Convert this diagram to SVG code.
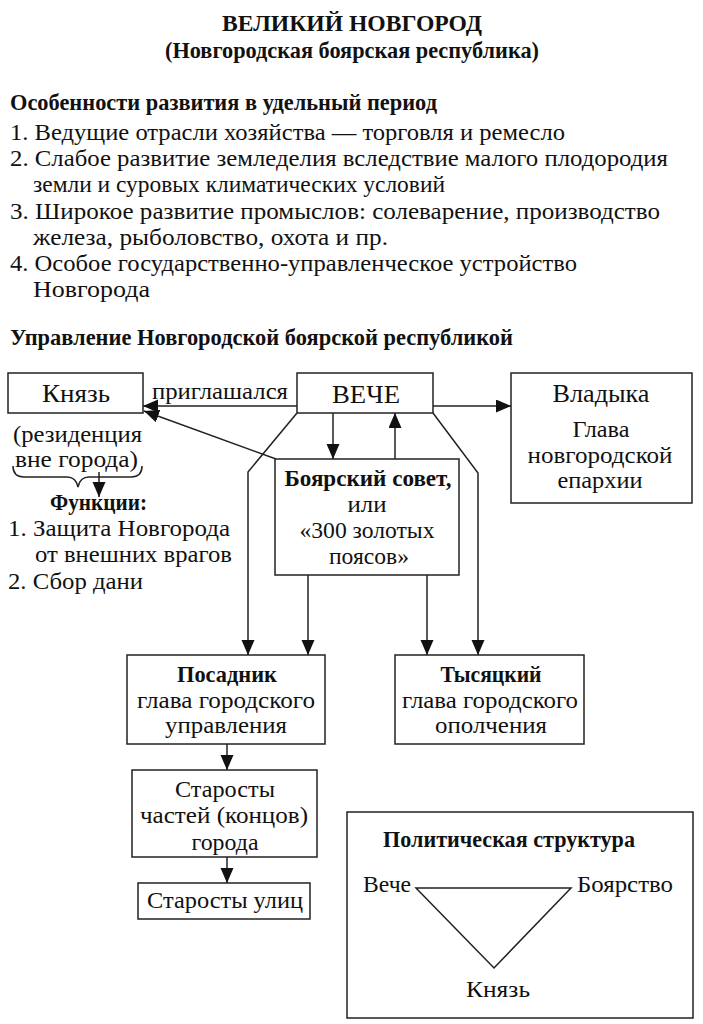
<svg xmlns="http://www.w3.org/2000/svg" width="703" height="1024" viewBox="0 0 703 1024">
<style>
text{font-family:"Liberation Serif","DejaVu Serif",serif;fill:#111;font-size:24px}
.b{font-weight:bold;font-size:23px}
.m{text-anchor:middle}
.e{text-anchor:end}
.box{fill:#fff;stroke:#222;stroke-width:1.5}
.ln{fill:none;stroke:#222;stroke-width:1.5}
</style>
<defs>
<marker id="ah" markerUnits="userSpaceOnUse" markerWidth="16" markerHeight="14" refX="15" refY="6.5" orient="auto">
<path d="M0,0 L15,6.5 L0,13 z" fill="#111"/>
</marker>
</defs>
<rect width="703" height="1024" fill="#fff"/>

<g id="header">
<text class="b m" x="352" y="31" style="font-size:24px" textLength="260" lengthAdjust="spacingAndGlyphs">ВЕЛИКИЙ НОВГОРОД</text>
<text class="b m" x="352" y="58" textLength="374" lengthAdjust="spacingAndGlyphs">(Новгородская боярская республика)</text>
<text class="b" x="10" y="110" textLength="427" lengthAdjust="spacingAndGlyphs">Особенности развития в удельный период</text>
<text x="10" y="140" textLength="555" lengthAdjust="spacingAndGlyphs">1. Ведущие отрасли хозяйства — торговля и ремесло</text>
<text x="10" y="166" textLength="658" lengthAdjust="spacingAndGlyphs">2. Слабое развитие земледелия вследствие малого плодородия</text>
<text x="33" y="192" textLength="412" lengthAdjust="spacingAndGlyphs">земли и суровых климатических условий</text>
<text x="10" y="219" textLength="650" lengthAdjust="spacingAndGlyphs">3. Широкое развитие промыслов: солеварение, производство</text>
<text x="33" y="245" textLength="355" lengthAdjust="spacingAndGlyphs">железа, рыболовство, охота и пр.</text>
<text x="10" y="271" textLength="567" lengthAdjust="spacingAndGlyphs">4. Особое государственно-управленческое устройство</text>
<text x="33" y="297" textLength="117" lengthAdjust="spacingAndGlyphs">Новгорода</text>
<text class="b" x="10" y="345" textLength="503" lengthAdjust="spacingAndGlyphs">Управление Новгородской боярской республикой</text>
</g>

<g id="connectors">
<line class="ln" x1="297" y1="406" x2="143" y2="406" marker-end="url(#ah)"/>
<line class="ln" x1="276" y1="459" x2="144" y2="411" marker-end="url(#ah)"/>
<line class="ln" x1="433" y1="406" x2="511" y2="406" marker-end="url(#ah)"/>
<line class="ln" x1="333" y1="413" x2="333" y2="459" marker-end="url(#ah)"/>
<line class="ln" x1="395" y1="459" x2="395" y2="413" marker-end="url(#ah)"/>
<polyline class="ln" points="297,413 248,472 248,655" marker-end="url(#ah)"/>
<line class="ln" x1="308" y1="575" x2="308" y2="655" marker-end="url(#ah)"/>
<line class="ln" x1="427" y1="575" x2="427" y2="655" marker-end="url(#ah)"/>
<polyline class="ln" points="433,413 478,473 478,655" marker-end="url(#ah)"/>
<line class="ln" x1="227" y1="744" x2="227" y2="770" marker-end="url(#ah)"/>
<line class="ln" x1="227" y1="857" x2="227" y2="883" marker-end="url(#ah)"/>
<line class="ln" x1="99" y1="472" x2="99" y2="497" marker-end="url(#ah)"/>
<path class="ln" d="M13,466 Q13,477 24,477 L67,477 Q76,477 78,487 Q80,477 89,477 L131,477 Q142,477 142,466"/>
<text x="152" y="399" textLength="136" lengthAdjust="spacingAndGlyphs">приглашался</text>
</g>

<g id="knyaz">
<rect class="box" x="8" y="373" width="135" height="40"/>
<text class="m" x="76" y="402" style="font-size:25px" textLength="68" lengthAdjust="spacingAndGlyphs">Князь</text>
<text x="13" y="442" textLength="129" lengthAdjust="spacingAndGlyphs">(резиденция</text>
<text x="15" y="467" textLength="123" lengthAdjust="spacingAndGlyphs">вне города)</text>
</g>

<g id="functions">
<text class="b" x="50" y="510" textLength="97" lengthAdjust="spacingAndGlyphs">Функции:</text>
<text x="8" y="536" textLength="222" lengthAdjust="spacingAndGlyphs">1. Защита Новгорода</text>
<text x="35" y="562" textLength="197" lengthAdjust="spacingAndGlyphs">от внешних врагов</text>
<text x="8" y="589" textLength="135" lengthAdjust="spacingAndGlyphs">2. Сбор дани</text>
</g>

<g id="veche">
<rect class="box" x="297" y="373" width="136" height="40"/>
<text class="m" x="366" y="403" style="font-size:25px" textLength="68" lengthAdjust="spacingAndGlyphs">ВЕЧЕ</text>
</g>

<g id="vladyka">
<rect class="box" x="511" y="373" width="181" height="130"/>
<text class="m" x="601" y="402" style="font-size:25px" textLength="97" lengthAdjust="spacingAndGlyphs">Владыка</text>
<text class="m" x="601" y="437" textLength="57" lengthAdjust="spacingAndGlyphs">Глава</text>
<text class="m" x="600" y="463" textLength="145" lengthAdjust="spacingAndGlyphs">новгородской</text>
<text class="m" x="600" y="488" textLength="85" lengthAdjust="spacingAndGlyphs">епархии</text>
</g>

<g id="boyar-council">
<rect class="box" x="275" y="459" width="184" height="116"/>
<text class="b m" x="368" y="486" textLength="167" lengthAdjust="spacingAndGlyphs">Боярский совет,</text>
<text class="m" x="367" y="512" textLength="39" lengthAdjust="spacingAndGlyphs">или</text>
<text class="m" x="367" y="538" textLength="135" lengthAdjust="spacingAndGlyphs">«300 золотых</text>
<text class="m" x="369" y="564" textLength="80" lengthAdjust="spacingAndGlyphs">поясов»</text>
</g>

<g id="posadnik">
<rect class="box" x="127" y="655" width="198" height="89"/>
<text class="b m" x="227" y="682" textLength="100" lengthAdjust="spacingAndGlyphs">Посадник</text>
<text class="m" x="226" y="708" textLength="178" lengthAdjust="spacingAndGlyphs">глава городского</text>
<text class="m" x="226" y="733" textLength="122" lengthAdjust="spacingAndGlyphs">управления</text>
</g>

<g id="tysyatsky">
<rect class="box" x="395" y="655" width="189" height="89"/>
<text class="b m" x="491" y="682" textLength="101" lengthAdjust="spacingAndGlyphs">Тысяцкий</text>
<text class="m" x="490" y="708" textLength="176" lengthAdjust="spacingAndGlyphs">глава городского</text>
<text class="m" x="491" y="733" textLength="112" lengthAdjust="spacingAndGlyphs">ополчения</text>
</g>

<g id="starosty-kontsov">
<rect class="box" x="132" y="770" width="185" height="87"/>
<text class="m" x="225" y="797" textLength="100" lengthAdjust="spacingAndGlyphs">Старосты</text>
<text class="m" x="224" y="823" textLength="168" lengthAdjust="spacingAndGlyphs">частей (концов)</text>
<text class="m" x="225" y="850" textLength="67" lengthAdjust="spacingAndGlyphs">города</text>
</g>

<g id="starosty-ulits">
<rect class="box" x="138" y="883" width="172" height="36"/>
<text class="m" x="225" y="908" textLength="156" lengthAdjust="spacingAndGlyphs">Старосты улиц</text>
</g>

<g id="political-structure">
<rect class="box" x="347" y="812" width="346" height="206"/>
<text class="b m" x="509" y="847" textLength="252" lengthAdjust="spacingAndGlyphs">Политическая структура</text>
<polygon class="ln" points="416,888 571,888 494,968"/>
<text class="e" x="411" y="892" textLength="48" lengthAdjust="spacingAndGlyphs">Вече</text>
<text x="577" y="892" textLength="96" lengthAdjust="spacingAndGlyphs">Боярство</text>
<text class="m" x="498" y="997" textLength="64" lengthAdjust="spacingAndGlyphs">Князь</text>
</g>
</svg>
